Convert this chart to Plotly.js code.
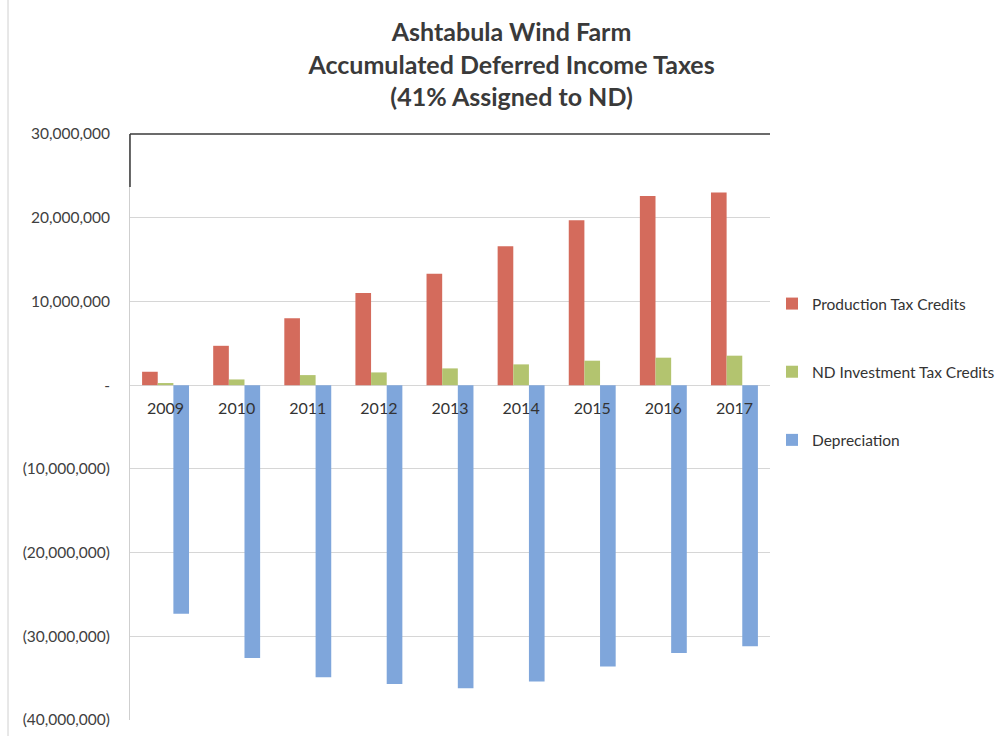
<!DOCTYPE html>
<html>
<head>
<meta charset="utf-8">
<script src="https://cdn.plot.ly/plotly-3.0.1.min.js"></script>
<style>html,body{margin:0;padding:0;background:#fff;}#chart{width:1007px;height:736px;}</style>
</head>
<body>
<div id="chart"></div>
<script>
var years = ['2009','2010','2011','2012','2013','2014','2015','2016','2017'];
var productionTaxCredits = [1600000, 4700000, 8000000, 11000000, 13300000, 16600000, 19700000, 22600000, 23000000];
var ndInvestmentTaxCredits = [250000, 680000, 1200000, 1520000, 2000000, 2480000, 2920000, 3280000, 3520000];
var depreciation = [-27300000, -32600000, -34900000, -35700000, -36200000, -35400000, -33600000, -32000000, -31200000];
var yTickVals = [30000000, 20000000, 10000000, 0, -10000000, -20000000, -30000000, -40000000];
var yTickText = ['30,000,000', '20,000,000', '10,000,000', '-', '(10,000,000)', '(20,000,000)', '(30,000,000)', '(40,000,000)'];
var seriesNames = ['Production Tax Credits', 'ND Investment Tax Credits', 'Depreciation'];

var FONT = 'Lato, "Open Sans", "Liberation Sans", sans-serif';
var traces = [
  {type:'bar', name:seriesNames[0], x:years, y:productionTaxCredits, marker:{color:'#D46B5C'}, legendgroup:'a'},
  {type:'bar', name:seriesNames[1], x:years, y:ndInvestmentTaxCredits, marker:{color:'#B3C46F'}, legendgroup:'b'},
  {type:'bar', name:seriesNames[2], x:years, y:depreciation, marker:{color:'#7FA6DB'}, legendgroup:'c'}
];
var layout = {
  width:1007, height:736,
  paper_bgcolor:'#ffffff', plot_bgcolor:'#ffffff',
  margin:{l:130, r:237, t:134, b:16, autoexpand:false},
  font:{family:FONT, color:'#333333'},
  title:{text:'Ashtabula Wind Farm<br>Accumulated Deferred Income Taxes<br>(41% Assigned to ND)',
         x:0.508, xanchor:'center', y:0.944, yanchor:'top',
         font:{family:FONT, size:25, color:'#3a3a3a', weight:'bold'}},
  barmode:'group', bargap:0.34, bargroupgap:0,
  xaxis:{type:'category', anchor:'free', position:40/70, showline:false, showgrid:false,
         ticks:'', ticklabelstandoff:12, tickfont:{size:16, color:'#333333', family:FONT}, zeroline:false},
  yaxis:{range:[-40000000, 30000000], tickvals:yTickVals, ticktext:yTickText,
         showgrid:true, gridcolor:'#d6d6d6', gridwidth:1, zeroline:true, zerolinecolor:'#d6d6d6', zerolinewidth:1,
         showline:true, linecolor:'#cfcfcf', linewidth:1, ticks:'', ticklabelstandoff:16,
         tickfont:{size:15.5, color:'#404040', family:FONT}},
  showlegend:true,
  legend:{x:(772-130)/640, xanchor:'left', y:(720-287)/586, yanchor:'top', traceorder:'grouped', tracegroupgap:45,
          font:{size:15.5, color:'#333333', family:FONT}, bgcolor:'rgba(0,0,0,0)', itemwidth:30},
  shapes:[
    {type:'line', xref:'paper', yref:'paper', x0:0, x1:1, y0:1, y1:1, line:{color:'#3a3a3a', width:1.5}},
    {type:'line', xref:'paper', yref:'paper', x0:0, x1:0, y0:1, y1:(720-187)/586, line:{color:'#3a3a3a', width:1.5}},
    {type:'line', xref:'paper', yref:'paper', x0:-122/640, x1:-122/640, y0:-16/586, y1:(720+0)/586 + 0.005, line:{color:'#d0d0d0', width:1}}
  ]
};
Plotly.newPlot('chart', traces, layout, {displayModeBar:false, staticPlot:true});
</script>
</body>
</html>
